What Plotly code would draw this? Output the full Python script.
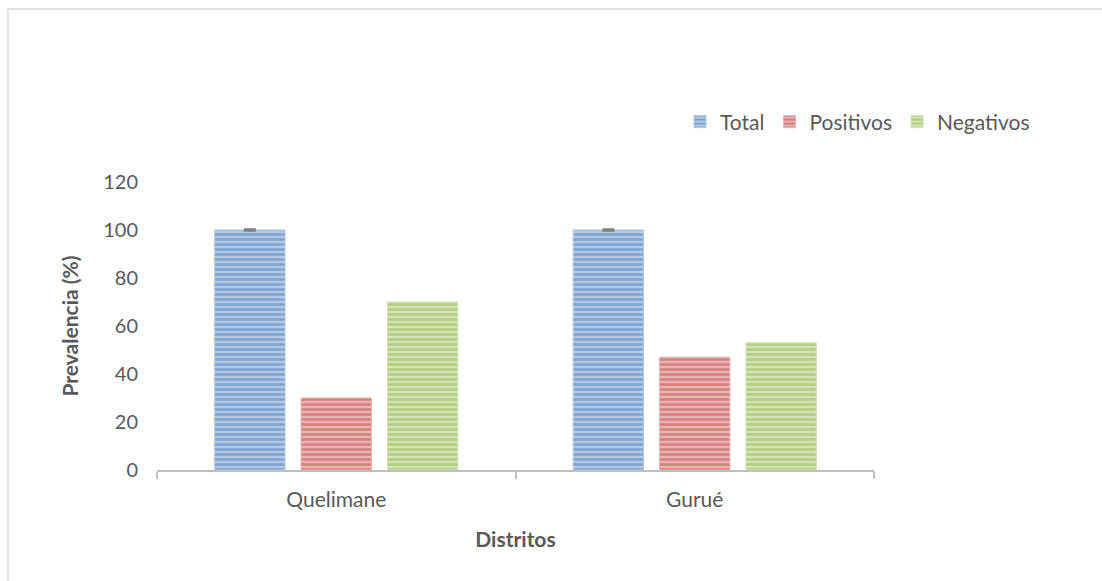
import plotly.graph_objects as go

categories = ["Quelimane", "Gurué"]
series_names = ["Total", "Positivos", "Negativos"]
total = [100, 100]
positivos = [30, 47]
negativos = [70, 53]
total_err = [0.3, 0.3]
y_ticks = [0, 20, 40, 60, 80, 100, 120]

fg_colors = ["#4a7cba", "#bf4b48", "#94b752"]
bg_colors = ["#b3c8e4", "#e6b3b2", "#d2e2b3"]

FONT = "Lato, 'Noto Sans', sans-serif"
TXT = "#595959"

fig = go.Figure()
for name, vals, fg, bg in zip(series_names, [total, positivos, negativos], fg_colors, bg_colors):
    kw = {}
    if name == "Total":
        kw["error_y"] = dict(type="data", array=total_err, visible=True,
                             color="#7f7f7f", thickness=2, width=6)
    fig.add_trace(go.Bar(
        x=categories, y=vals, name=name,
        marker=dict(color=bg,
                    line=dict(color=bg, width=1),
                    pattern=dict(shape="-", fgcolor=fg, bgcolor=bg, size=5, solidity=0.5,
                                 fillmode="overlay")),
        **kw))

L, R, T, B = 157, 874, 182, 470
W, H = 1102, 581
pw, ph = R - L, B - T

def px_to_paper_x(px):
    return (px - L) / pw

def px_to_paper_y(py):
    return (B - py) / ph

fig.update_layout(
    width=W, height=H,
    margin=dict(l=L, r=W - R, t=T, b=H - B, pad=0),
    paper_bgcolor="white", plot_bgcolor="white",
    barmode="group", bargap=0.277, bargroupgap=0.186,
    font=dict(family=FONT, color=TXT, size=20),
    showlegend=True,
    legend=dict(orientation="h", x=px_to_paper_x(680), y=px_to_paper_y(122),
                xanchor="left", yanchor="middle",
                font=dict(size=21, color=TXT, family=FONT),
                itemwidth=30, traceorder="normal", bgcolor="rgba(0,0,0,0)"),
    xaxis=dict(showline=True, linecolor="#bfbfbf", linewidth=2,
               ticks="outside", tickson="boundaries", ticklen=7, tickcolor="#bfbfbf", tickwidth=2,
               tickfont=dict(size=21, color=TXT),
               ticklabelstandoff=10,
               title=dict(text="<b>Distritos</b>", font=dict(size=21, color=TXT), standoff=22),
               showgrid=False),
    yaxis=dict(range=[0, 120], tickvals=y_ticks, showgrid=False, zeroline=False,
               showline=False, ticks="", ticklabelstandoff=18,
               tickfont=dict(size=20, color=TXT),
               title=dict(text="<b>Prevalencia (%)</b>", font=dict(size=21, color=TXT), standoff=18)),
    shapes=[dict(type="rect", xref="paper", yref="paper",
                 x0=px_to_paper_x(8), x1=px_to_paper_x(1200),
                 y0=px_to_paper_y(700), y1=px_to_paper_y(9),
                 line=dict(color="#d9d9d9", width=1.5), fillcolor="rgba(0,0,0,0)", layer="below")],
)

fig.write_html("out.html")
